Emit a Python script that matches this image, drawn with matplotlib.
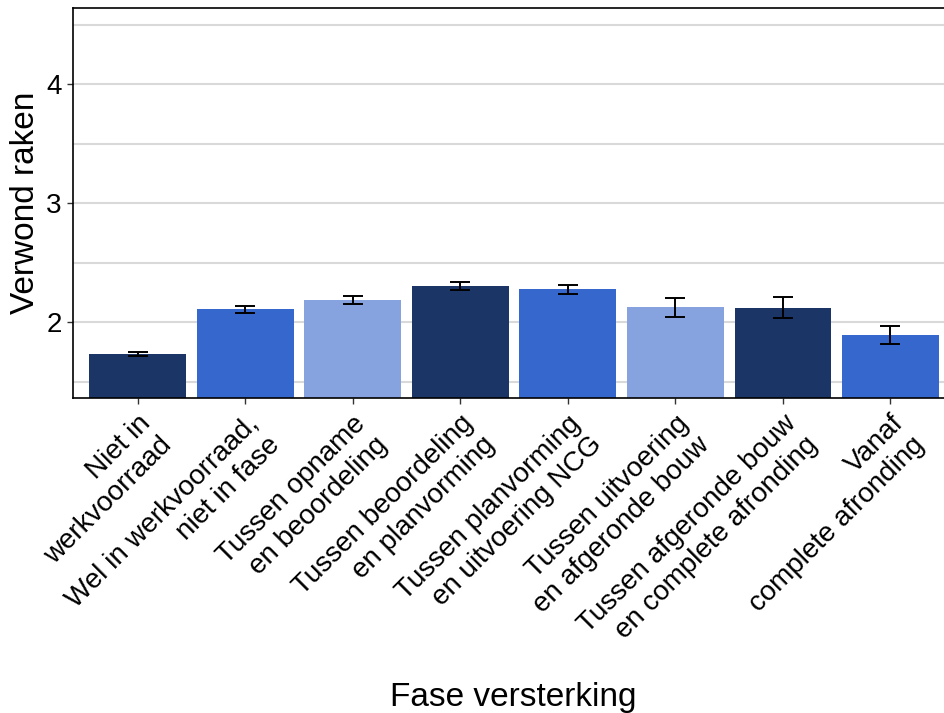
import matplotlib
matplotlib.use('Agg')
import matplotlib.pyplot as plt
import numpy as np

plt.rcParams['font.family'] = ['Liberation Sans', 'DejaVu Sans']

# Data
fases = ['Niet in\nwerkvoorraad',
         'Wel in werkvoorraad,\nniet in fase',
         'Tussen opname\nen beoordeling',
         'Tussen beoordeling\nen planvorming',
         'Tussen planvorming\nen uitvoering NCG',
         'Tussen uitvoering\nen afgeronde bouw',
         'Tussen afgeronde bouw\nen complete afronding',
         'Vanaf\ncomplete afronding']
gemiddelde = [1.729, 2.107, 2.185, 2.303, 2.275, 2.123, 2.120, 1.891]
fout = [0.017, 0.028, 0.032, 0.035, 0.038, 0.081, 0.088, 0.076]
kleuren = ['#1b3566', '#3667cc', '#86a3df', '#1b3566', '#3667cc', '#86a3df', '#1b3566', '#3667cc']

W, H = 945, 713
fig = plt.figure(figsize=(W / 100, H / 100), dpi=100)
# axes in pixels: left 73, top 8, bottom 398, right runs past the image edge
ax = fig.add_axes([73 / W, (H - 398) / H, 882 / W, 390 / H])

x = np.arange(len(fases))
ax.bar(x, gemiddelde, width=0.9, color=kleuren, zorder=2)
ax.errorbar(x, gemiddelde, yerr=fout, fmt='none', ecolor='black',
            elinewidth=1.4, capsize=7.5, capthick=1.4, zorder=3)

ax.set_xlim(-0.6, 7.6)
ax.set_ylim(1.362, 4.64)
ax.set_yticks([2, 3, 4])
ax.set_yticks([1.5, 2.5, 3.5, 4.5], minor=True)
ax.yaxis.grid(True, which='both', color='#d9d9d9', linewidth=1.5, zorder=0)
ax.set_axisbelow(True)

ax.set_xticks(x)
ax.set_xticklabels(fases, rotation=45, ha='right', va='top',
                   rotation_mode='anchor', multialignment='right', fontsize=20)
ax.tick_params(axis='y', which='major', labelsize=20, length=4, color='#333333', width=1, pad=4)
ax.tick_params(axis='y', which='minor', length=0)
ax.tick_params(axis='x', length=4, color='#333333', width=1, pad=5)

for s in ['left', 'bottom', 'top']:
    ax.spines[s].set_color('black')
    ax.spines[s].set_linewidth(1.2)
ax.spines['right'].set_visible(False)

ax.set_ylabel('Verwond raken', fontsize=24)
ax.yaxis.set_label_coords(-0.036, 0.5)
ax.set_xlabel('Fase versterking', fontsize=24)
ax.xaxis.label.set_va('baseline')
ax.xaxis.set_label_coords(0.4995, (398 - 706) / 390)

fig.savefig('out.png', dpi=100)
